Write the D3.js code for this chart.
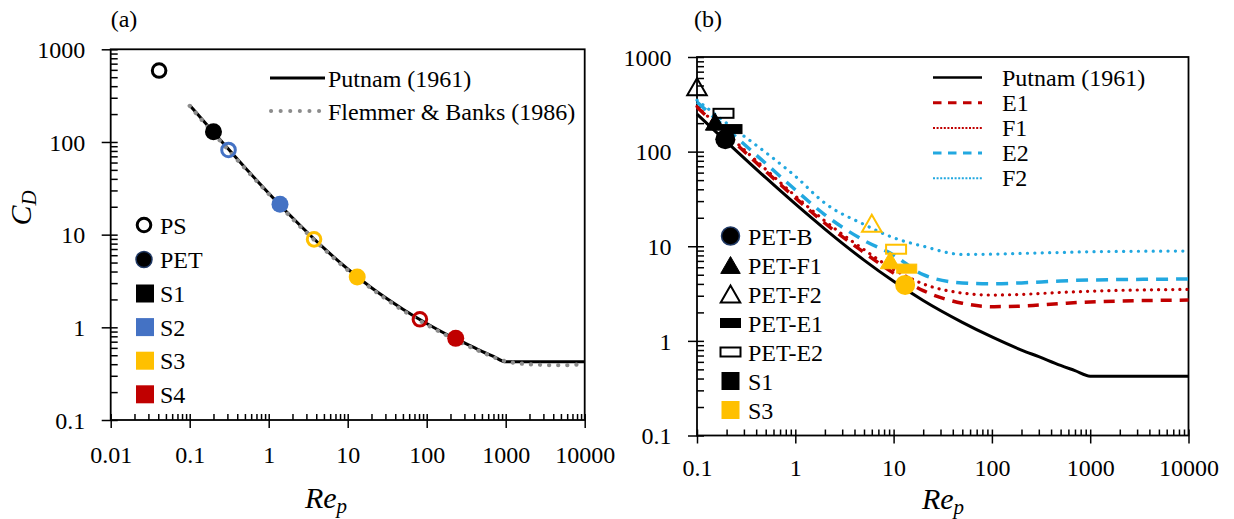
<!DOCTYPE html>
<html>
<head>
<meta charset="utf-8">
<script src="https://cdn.jsdelivr.net/npm/d3@7"></script>
<style>
  body { margin: 0; background: #fff; }
</style>
</head>
<body>
<div id="chart"></div>
<script>
// ---- data ----
// Putnam (1961) correlation, used in both panels
var putnamRe = [0.1, 0.2, 0.5, 1, 2, 5, 10, 20, 50, 100, 200, 300, 500, 700, 1000, 10000]
var putnamCd = [249, 127, 53, 28, 15.2, 7.14, 4.26, 2.67, 1.57, 1.10, 0.80, 0.68, 0.55, 0.485, 0.424, 0.424]

// Flemmer & Banks (1986), panel (a)
var fbRe = [0.1, 0.2, 0.5, 1, 2, 5, 10, 20, 50, 100, 200, 500, 1000, 2000, 5000, 10000]
var fbCd = [245, 124, 52, 27.5, 14.8, 7.0, 4.15, 2.62, 1.52, 1.07, 0.78, 0.54, 0.43, 0.40, 0.39, 0.40]

// fitted curves, panel (b)
var modelRe = [0.1, 0.2, 0.5, 1, 2, 5, 10, 20, 50, 100, 200, 500, 1000, 10000]
var e1Cd = [295, 150, 62, 32.5, 17.5, 8.6, 5.2, 3.4, 2.5, 2.3, 2.33, 2.48, 2.58, 2.7]
var f1Cd = [300, 155, 65, 34, 18.5, 9.2, 5.7, 4.0, 3.2, 3.05, 3.1, 3.25, 3.35, 3.5]
var e2Cd = [335, 175, 75, 39.5, 21.5, 11.5, 8.1, 5.0, 4.1, 4.02, 4.1, 4.3, 4.4, 4.5]
var f2Cd = [350, 200, 98, 55, 28.5, 17, 12.3, 10, 8.2, 8.25, 8.4, 8.6, 8.75, 8.9]

// measured points, panel (a)
var pointsARe = [0.041, 0.2, 0.31, 1.39, 3.75, 13.2, 82, 233]
var pointsACd = [590, 129, 82, 21.3, 8.9, 3.5, 1.22, 0.76]
var pointsASample = ["S1", "S1", "S2", "S2", "S3", "S3", "S4", "S4"]
var pointsAMaterial = ["PS", "PET", "PS", "PET", "PS", "PET", "PS", "PET"]

// measured points, panel (b)
var pointsBRe = [0.1, 0.186, 0.227, 0.153, 0.194, 6.0, 10.6, 13.6, 9.2, 13.1]
var pointsBCd = [485, 254, 173, 207, 135, 17.5, 9.3, 5.8, 7.1, 3.9]
var pointsBType = ["PET-F2", "PET-E2", "PET-E1", "PET-F1", "PET-B", "PET-F2", "PET-E2", "PET-E1", "PET-F1", "PET-B"]
var pointsBSample = ["S1", "S1", "S1", "S1", "S1", "S3", "S3", "S3", "S3", "S3"]

// axes
var xTicksA = [0.01, 0.1, 1, 10, 100, 1000, 10000]
var xLabelsA = ["0.01", "0.1", "1", "10", "100", "1000", "10000"]
var xTicksB = [0.1, 1, 10, 100, 1000, 10000]
var xLabelsB = ["0.1", "1", "10", "100", "1000", "10000"]
var yTicks = [0.1, 1, 10, 100, 1000]
var yLabels = ["0.1", "1", "10", "100", "1000"]

// legends
var legendAMaterials = ["PS", "PET"]
var legendASamples = ["S1", "S2", "S3", "S4"]
var legendBCurves = ["Putnam (1961)", "E1", "F1", "E2", "F2"]
var legendBMarkers = ["PET-B", "PET-F1", "PET-F2", "PET-E1", "PET-E2", "S1", "S3"]

// ---- styles ----
var serif = '"Liberation Serif", "Times New Roman", serif'
var sampleColor = { S1: "#000000", S2: "#4472C4", S3: "#FFC000", S4: "#C00000" }
var red = "#C00000", sky = "#22A8E0", gray = "#8C8C8C"

var svg = d3.select("#chart").append("svg")
    .attr("width", 1234)
    .attr("height", 519)
    .style("background", "#fff")

var xA = d3.scaleLog().domain([0.01, 10000]).range([110.7, 584.7])
var yA = d3.scaleLog().domain([0.1, 1000]).range([420, 49.3])
var xB = d3.scaleLog().domain([0.1, 10000]).range([697, 1188.5])
var yB = d3.scaleLog().domain([0.1, 1000]).range([435.5, 57])

function minors(ticks) {
    var out = []
    ticks.slice(0, -1).forEach(function(t) {
        for (var k = 2; k <= 9; k++) out.push(t * k)
    })
    return out
}

function drawAxes(x, y, xTicks, xLabels, xLabelGap) {
    var x0 = x.range()[0], x1 = x.range()[1]
    var y0 = y.range()[0], y1 = y.range()[1]
    var g = svg.append("g")

    // minor ticks point inside
    g.append("g").attr("transform", "translate(0," + y0 + ")")
        .call(d3.axisBottom(x).tickValues(minors(xTicks)).tickSize(-6).tickSizeOuter(0).tickFormat(""))
    g.append("g").attr("transform", "translate(" + x0 + ",0)")
        .call(d3.axisLeft(y).tickValues(minors(yTicks)).tickSize(-7).tickSizeOuter(0).tickFormat(""))

    // major ticks cross the axis
    var ax = g.append("g").attr("transform", "translate(0," + y0 + ")")
        .call(d3.axisBottom(x).tickValues(xTicks).tickSize(8).tickSizeOuter(0)
            .tickFormat(function(d, i) { return xLabels[i] }))
    ax.selectAll(".tick line").attr("y1", -6)
    ax.selectAll(".tick text").attr("y", xLabelGap).attr("dy", 0)

    var ay = g.append("g").attr("transform", "translate(" + x0 + ",0)")
        .call(d3.axisLeft(y).tickValues(yTicks).tickSize(9).tickSizeOuter(0)
            .tickFormat(function(d, i) { return yLabels[i] }))
    ay.selectAll(".tick line").attr("x1", 7)
    ay.selectAll(".tick text").attr("x", -25.5).attr("dy", "0.34em")

    g.selectAll(".domain").remove()
    g.selectAll(".tick line").attr("stroke", "#000").attr("stroke-width", 1.5)
    g.selectAll("g").attr("font-family", serif).attr("font-size", 24)
    g.selectAll("text").attr("fill", "#000")

    // plot frame
    g.append("rect")
        .attr("x", x0).attr("y", y1)
        .attr("width", x1 - x0).attr("height", y0 - y1)
        .attr("fill", "none").attr("stroke", "#000").attr("stroke-width", 1.8)
}

function curve(x, y, re, cd) {
    return d3.line()
        .x(function(d) { return x(d[0]) })
        .y(function(d) { return y(d[1]) })
        .curve(d3.curveMonotoneX)(d3.zip(re, cd))
}

function addText(str, x, y, size, anchor) {
    return svg.append("text")
        .attr("x", x).attr("y", y)
        .attr("font-family", serif).attr("font-size", size || 24)
        .attr("text-anchor", anchor || "start")
        .attr("fill", "#000")
        .text(str)
}

function axisTitle(main, sub, x, y, rotate) {
    var t = svg.append("text")
        .attr("transform", "translate(" + x + "," + y + ")" + (rotate ? " rotate(-90)" : ""))
        .attr("text-anchor", "middle")
        .attr("font-family", serif).attr("font-style", "italic")
        .attr("fill", "#000")
    t.append("tspan").attr("font-size", 30).text(main)
    t.append("tspan").attr("font-size", 21).attr("dy", 5).text(sub)
}

// open / filled circle for panel (a)
function circleA(cx, cy, color, open) {
    svg.append("circle")
        .attr("cx", cx).attr("cy", cy)
        .attr("r", open ? 6.8 : 8.5)
        .attr("fill", open ? "none" : color)
        .attr("stroke", color)
        .attr("stroke-width", open ? 3 : 0)
}

// markers for panel (b)
var triSize = 165
var triOffset = Math.sqrt(triSize / (Math.sqrt(3) * 3)) / 2
function markerB(type, color, cx, cy) {
    if (type === "PET-B") {
        svg.append("circle").attr("cx", cx).attr("cy", cy).attr("r", 10).attr("fill", color)
    } else if (type === "PET-F1" || type === "PET-F2") {
        var open = type === "PET-F2"
        svg.append("path")
            .attr("d", d3.symbol().type(d3.symbolTriangle).size(triSize)())
            .attr("transform", "translate(" + cx + "," + (cy + triOffset) + ")")
            .attr("fill", open ? "none" : color)
            .attr("stroke", color).attr("stroke-width", open ? 2 : 1)
    } else if (type === "PET-E1" || type === "PET-E2") {
        var open2 = type === "PET-E2"
        svg.append("rect")
            .attr("x", cx - 10).attr("y", cy - 4.5)
            .attr("width", 20).attr("height", 9)
            .attr("fill", open2 ? "none" : color)
            .attr("stroke", color).attr("stroke-width", open2 ? 2 : 1)
    } else {
        svg.append("rect")
            .attr("x", cx - 9).attr("y", cy - 9)
            .attr("width", 18).attr("height", 18)
            .attr("fill", color)
    }
}

// ================= panel (a) =================
drawAxes(xA, yA, xTicksA, xLabelsA, 43)

svg.append("path")
    .attr("d", curve(xA, yA, putnamRe, putnamCd))
    .attr("fill", "none").attr("stroke", "#000").attr("stroke-width", 3)
svg.append("path")
    .attr("d", curve(xA, yA, fbRe, fbCd))
    .attr("fill", "none").attr("stroke", gray).attr("stroke-width", 4.2)
    .attr("stroke-linecap", "round").attr("stroke-dasharray", "0.1 9")

pointsARe.forEach(function(re, i) {
    circleA(xA(re), yA(pointsACd[i]), sampleColor[pointsASample[i]], pointsAMaterial[i] === "PS")
})

// legend, top right
svg.append("line").attr("x1", 270).attr("x2", 325).attr("y1", 78).attr("y2", 78)
    .attr("stroke", "#000").attr("stroke-width", 3)
svg.append("line").attr("x1", 271).attr("x2", 325).attr("y1", 111).attr("y2", 111)
    .attr("stroke", gray).attr("stroke-width", 4).attr("stroke-linecap", "round")
    .attr("stroke-dasharray", "0.1 9.5")
addText("Putnam (1961)", 328, 86.5)
addText("Flemmer & Banks (1986)", 328, 119.5)

// legend, bottom left
legendAMaterials.forEach(function(m, i) {
    var cy = 225 + i * 34.5
    if (m === "PS") circleA(144, cy, "#000", true)
    else svg.append("circle").attr("cx", 144).attr("cy", cy).attr("r", 8)
        .attr("fill", "#000").attr("stroke", "#1F3864").attr("stroke-width", 1.5)
    addText(m, 160, cy + 8.5)
})
legendASamples.forEach(function(s, i) {
    var cy = 293.5 + i * 33.6
    svg.append("rect").attr("x", 136).attr("y", cy - 9).attr("width", 18).attr("height", 18)
        .attr("fill", sampleColor[s])
    addText(s, 160, cy + 8.5)
})

addText("(a)", 124, 27, 24, "middle")
axisTitle("Re", "p", 326, 508, false)
axisTitle("C", "D", 31, 208, true)

// ================= panel (b) =================
drawAxes(xB, yB, xTicksB, xLabelsB, 40)

var bStyles = [
    { cd: putnamCd, re: putnamRe, color: "#000", width: 3, dash: null, cap: "butt" },
    { cd: e1Cd, re: modelRe, color: red, width: 3.5, dash: "11 8", cap: "butt" },
    { cd: f1Cd, re: modelRe, color: red, width: 3.2, dash: "0.1 7", cap: "round" },
    { cd: e2Cd, re: modelRe, color: sky, width: 3.5, dash: "12 8", cap: "butt" },
    { cd: f2Cd, re: modelRe, color: sky, width: 3.2, dash: "0.1 7.3", cap: "round" }
]
bStyles.forEach(function(s, i) {
    svg.append("path")
        .attr("d", curve(xB, yB, s.re, s.cd))
        .attr("fill", "none").attr("stroke", s.color).attr("stroke-width", s.width)
        .attr("stroke-dasharray", s.dash).attr("stroke-linecap", s.cap)

    // legend row
    var ly = 77.5 + i * 25.2
    var ll = svg.append("line").attr("x1", 933).attr("x2", 982).attr("y1", ly).attr("y2", ly)
        .attr("stroke", s.color)
    if (s.dash === null) ll.attr("stroke-width", 2.5)
    else if (s.cap === "butt") ll.attr("stroke-width", 3).attr("stroke-dasharray", "8.5 6.5")
    else ll.attr("stroke-width", 2).attr("stroke-dasharray", "2 1.6")
    addText(legendBCurves[i], 1002, ly + 8)
})

pointsBRe.forEach(function(re, i) {
    markerB(pointsBType[i], sampleColor[pointsBSample[i]], xB(re), yB(pointsBCd[i]))
})

// legend, bottom left
legendBMarkers.forEach(function(m, i) {
    var base = 245 + i * 29
    var color = m === "S3" ? sampleColor.S3 : "#000"
    if (m === "PET-B") {
        svg.append("circle").attr("cx", 730.5).attr("cy", base - 9).attr("r", 9)
            .attr("fill", "#000").attr("stroke", "#1F3864").attr("stroke-width", 1.5)
    } else {
        markerB(m, color, 730.5, base - 9)
    }
    addText(m, 748, base)
})

addText("(b)", 708, 27, 24, "middle")
axisTitle("Re", "p", 943, 509, false)
</script>
</body>
</html>
